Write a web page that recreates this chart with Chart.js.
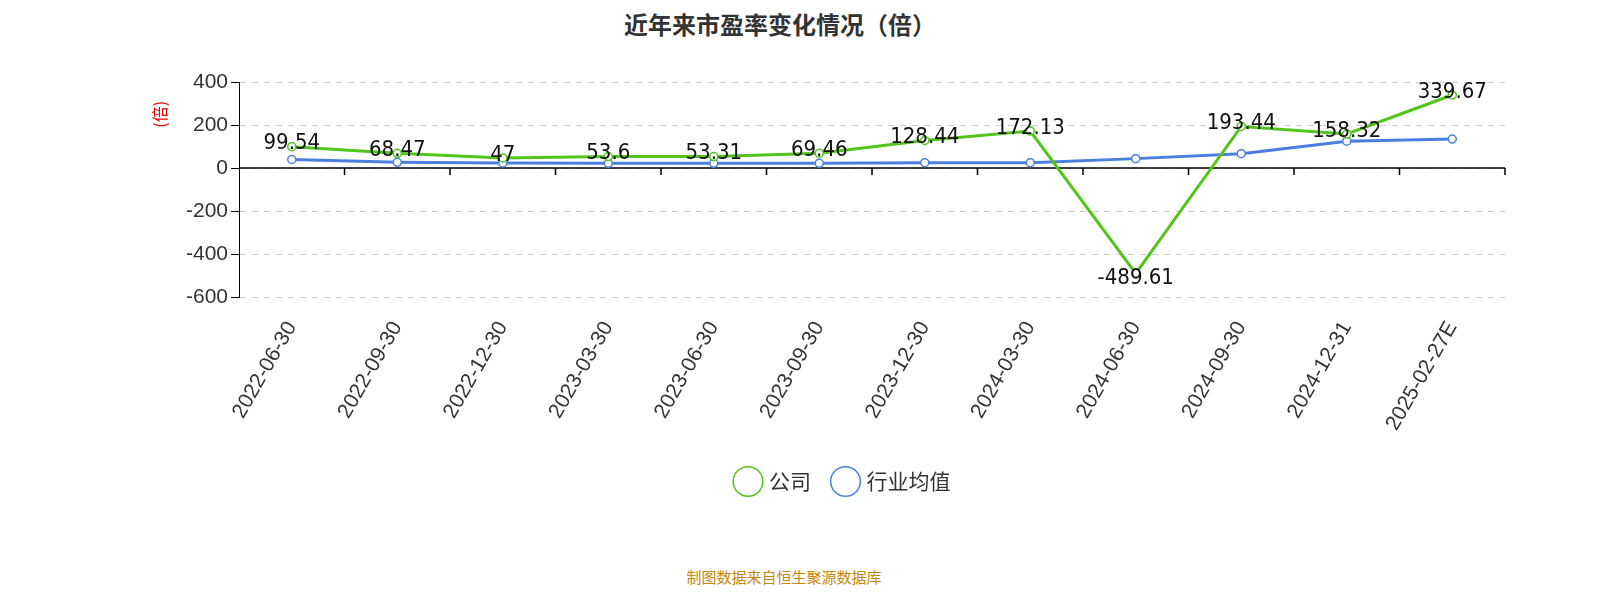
<!DOCTYPE html>
<html><head><meta charset="utf-8">
<script src="https://cdn.jsdelivr.net/npm/chart.js@4"></script>
<style>body{margin:0;background:#fff;font-family:"Noto Sans CJK SC","Noto Sans",sans-serif}
#wrap{position:relative;width:1600px;height:600px}
h1{position:absolute;top:6px;left:0;width:1560px;text-align:center;margin:0;font-size:24px;color:#333;font-weight:bold}
#src{position:absolute;top:566px;left:0;width:1568px;text-align:center;font-size:15px;color:#c8860a}
</style></head><body>
<div id="wrap"><h1>近年来市盈率变化情况（倍）</h1>
<div style="position:absolute;left:0;top:50px;width:1560px;height:510px"><canvas id="c"></canvas></div>
<div id="src">制图数据来自恒生聚源数据库</div></div>
<script>
const categories = ["2022-06-30","2022-09-30","2022-12-30","2023-03-30","2023-06-30","2023-09-30","2023-12-30","2024-03-30","2024-06-30","2024-09-30","2024-12-31","2025-02-27E"];
const company = [99.54,68.47,47,53.6,53.31,69.46,128.44,172.13,-489.61,193.44,158.32,339.67];
const industry = [40,27,24,22,22,22,25,25,44,67,125,135];
const labelPlugin = {id:"lbl",afterDatasetsDraw(ch){
  const ctx=ch.ctx;const m=ch.getDatasetMeta(0);
  ctx.save();ctx.font="22px 'DejaVu Sans Condensed','Noto Sans',sans-serif";ctx.fillStyle="#111";ctx.textAlign="center";
  m.data.forEach((p,i)=>{const v=company[i];ctx.textBaseline=v<0?"top":"bottom";ctx.fillText(String(v),p.x,v<0?p.y-6:p.y+8);});
  ctx.restore();}};
const zeroAxis={id:"za",beforeDatasetsDraw(ch){const c=ch.ctx,a=ch.chartArea,y=ch.scales.y.getPixelForValue(0),x=ch.scales.x;
  c.save();c.strokeStyle="#000";c.lineWidth=1.5;c.beginPath();c.moveTo(a.left,y);c.lineTo(a.right,y);
  const w=(a.right-a.left)/categories.length;for(let i=1;i<=categories.length;i++){c.moveTo(a.left+i*w,y);c.lineTo(a.left+i*w,y+7);}
  c.stroke();c.restore();}};
const yTitle={id:"yt",afterDraw(ch){const c=ch.ctx;c.save();c.translate(160,ch.scales.y.getPixelForValue(250));c.rotate(-Math.PI/2);
  c.font="16px 'Noto Sans CJK SC'";c.fillStyle="#e00";c.textAlign="center";c.textBaseline="middle";c.fillText("(倍)",0,0);c.restore();}};
new Chart(document.getElementById("c"),{type:"line",
 data:{labels:categories,datasets:[
  {label:"公司",data:company,borderColor:"#52c41a",backgroundColor:"#fff",borderWidth:3,pointRadius:4,pointBorderWidth:1.5,pointBorderColor:"#52c41a",tension:0},
  {label:"行业均值",data:industry,borderColor:"#4a7fe0",backgroundColor:"#fff",borderWidth:3,pointRadius:4,pointBorderWidth:1.5,pointBorderColor:"#4a7fe0",tension:0}]},
 options:{responsive:true,maintainAspectRatio:false,animation:false,events:[],
  layout:{padding:{left:183,right:55,top:32,bottom:58}},
  plugins:{legend:{position:"bottom",labels:{font:{size:21,family:"Noto Sans CJK SC"},color:"#333",usePointStyle:true,pointStyle:"circle",boxWidth:40,padding:24}},tooltip:{enabled:false}},
  scales:{x:{offset:true,grid:{display:false},border:{display:false},
     ticks:{color:"#333",font:{size:21},maxRotation:60,minRotation:60,padding:12}},
   y:{min:-600,max:400,ticks:{stepSize:200,color:"#333",font:{size:21}},
     grid:{color:"#ccc",drawTicks:true,tickLength:8,tickColor:"#000"},border:{display:true,color:"#000",dash:[6,6]}}}},
 plugins:[labelPlugin,zeroAxis,yTitle]});
</script></body></html>
